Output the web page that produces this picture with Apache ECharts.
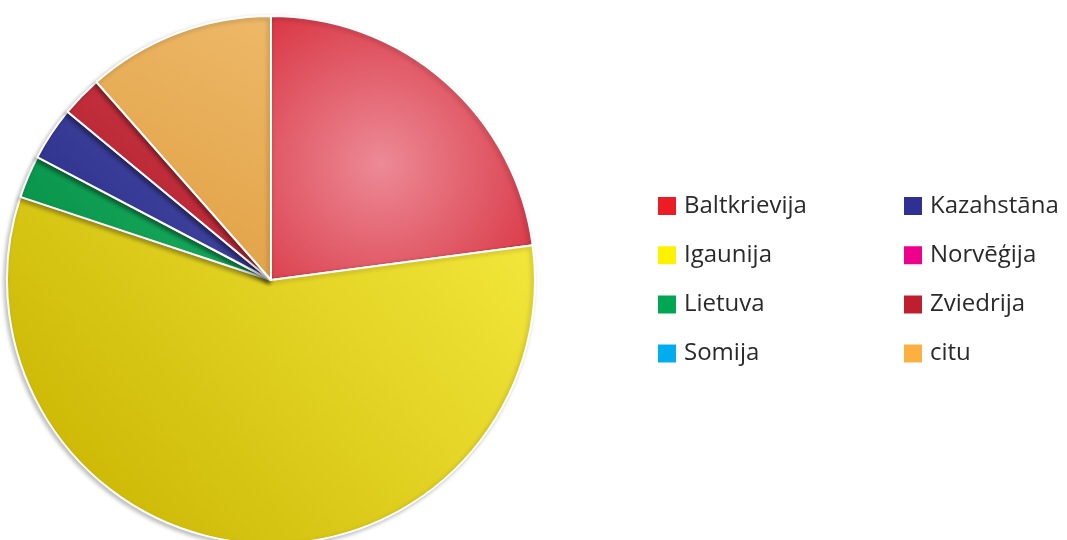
<!DOCTYPE html>
<html><head><meta charset="utf-8">
<script src="https://cdn.jsdelivr.net/npm/echarts@6/dist/echarts.min.js"></script>
<style>html,body{margin:0;padding:0;background:#fff}#c{width:1067px;height:540px}</style>
</head><body><div id="c"></div>
<script>
const categories = ['Baltkrievija','Igaunija','Lietuva','Somija','Kazahstāna','Norvēģija','Zviedrija','citu'];
const values = [22.9, 57.2, 2.6, 0, 3.3, 0, 2.5, 11.5];
const legendColors = ['#ED1C24','#FFF200','#00A651','#00AEEF','#2E3192','#EC008C','#BE1E2D','#FBB040'];
const sliceLight = ['#EC8A96','#F2E63A','#1DB060','#30C0F0','#4A4FA8','#F040A0','#CC3A48','#EDB868'];
const sliceDark  = ['#D8303E','#C9B400','#07924A','#0090C8','#2A2C88','#C00070','#B01E2C','#E09E40'];

const chart = echarts.init(document.getElementById('c'), null, {renderer:'canvas'});
const data = categories.map((n,i)=>({
  name:n, value:values[i],
  itemStyle:{
    color: i===0 ? {type:'radial',x:0.42,y:0.56,r:0.75,colorStops:[{offset:0,color:sliceLight[i]},{offset:1,color:sliceDark[i]}]}
         : {type:'linear',x:0.9,y:0,x2:0.1,y2:1,colorStops:[{offset:0,color:sliceLight[i]},{offset:1,color:sliceDark[i]}]}
  }
}));
const legendBase = {
  orient:'vertical', itemWidth:20, itemHeight:20, itemGap:25.2, icon:'rect',
  textStyle:{fontFamily:'Open Sans', fontSize:24, color:'#2a2a2a', padding:[0,0,0,2]},
  selectedMode:false
};
chart.setOption({
  animation:false,
  color: legendColors,
  legend:[
    Object.assign({}, legendBase, {left:651, top:189, data:categories.slice(0,4).map((n,i)=>({name:n, itemStyle:{color:legendColors[i]}}))}),
    Object.assign({}, legendBase, {left:897, top:189, data:categories.slice(4).map((n,i)=>({name:n, itemStyle:{color:legendColors[i+4]}}))})
  ],
  series:[{
    type:'pie', center:[271,280], radius:[0,264], startAngle:90, clockwise:true,
    label:{show:false}, labelLine:{show:false},
    itemStyle:{borderColor:'#fff', borderWidth:2, shadowColor:'rgba(0,0,0,0.25)', shadowBlur:4, shadowOffsetX:-2, shadowOffsetY:2},
    emphasis:{disabled:true},
    data:data
  }]
});
</script></body></html>
